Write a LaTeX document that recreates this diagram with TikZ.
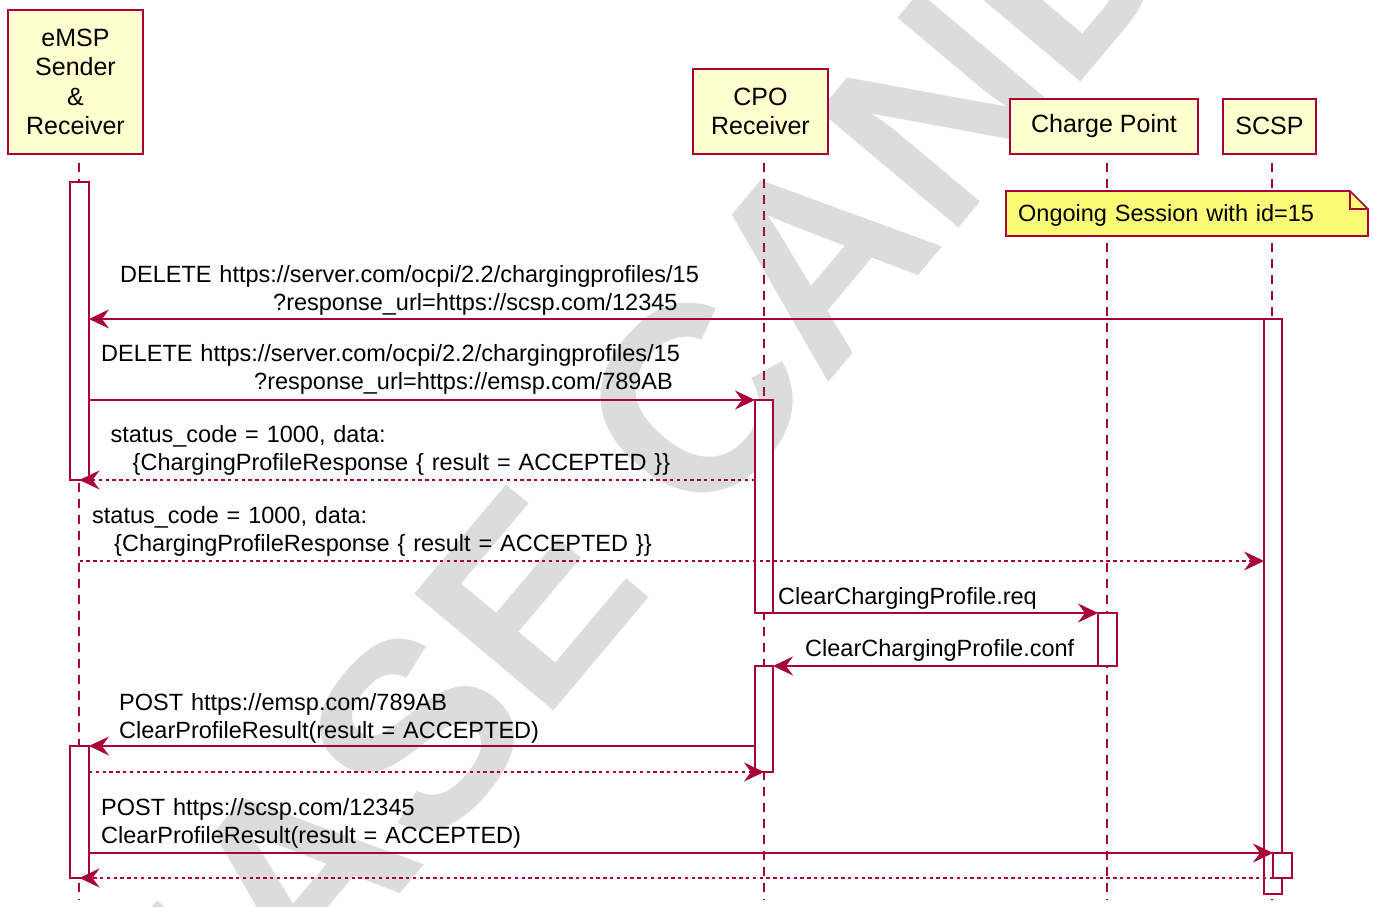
\documentclass[tikz,border=0pt]{standalone}
\usepackage{fontspec}
\setmainfont{Liberation Sans}
\usetikzlibrary{arrows.meta}
\definecolor{umlred}{HTML}{A80036}
\definecolor{umlbox}{HTML}{FEFECE}
\definecolor{umlnote}{HTML}{FBFB77}
\definecolor{wmgray}{HTML}{DCDCDC}
\tikzset{
  watermark/.style={font=\bfseries\fontsize{264}{264}\selectfont, text=wmgray, rotate=50, inner sep=0pt},
  actor/.style={draw=umlred, fill=umlbox, line width=2.4pt, inner sep=0pt, anchor=south, align=center, font=\fontsize{25}{29.4}\selectfont},
  lifeline/.style={draw=umlred, line width=1.5pt, dash pattern=on 9pt off 7pt},
  activ/.style={draw=umlred, fill=white, line width=1.7pt, inner sep=0pt, outer sep=0pt, anchor=north west, minimum width=19pt},
  msg/.style={-{Stealth[length=20pt,width=19pt,inset=7pt]}, draw=umlred, line width=1.7pt},
  reply/.style={msg, dash pattern=on 3.4pt off 3.4pt},
  notebox/.style={draw=umlred, fill=umlnote, line width=1.6pt},
  label/.style={font=\fontsize{23.5}{27.6}\selectfont, inner sep=0pt, anchor=base west, text width=700pt, align=left}
}

\begin{document}
\begin{tikzpicture}[x=1pt,y=1pt]
\useasboundingbox (0,0) rectangle (1373,907);

% watermark
\node[watermark] (wm) at (702,514) {RELEASE CANDIDATE};

% participants
\node[actor, minimum width=135pt, minimum height=144pt] (emsp) at (75.5,752) {eMSP\\Sender\\\&\\Receiver};
\node[actor, minimum width=135pt, minimum height=85pt] (cpo) at (760.5,752) {CPO\\Receiver};
\node[actor, minimum width=188pt, minimum height=55pt] (cp) at (1104,752) {Charge Point};
\node[actor, minimum width=93pt, minimum height=55pt] (scsp) at (1269.5,752) {SCSP};

% lifelines
\coordinate (emspTop) at (79,744);  \coordinate (emspBot) at (79,7);
\coordinate (cpoTop) at (764,744);  \coordinate (cpoBot) at (764,7);
\coordinate (cpTop) at (1107,744);  \coordinate (cpBot) at (1107,7);
\coordinate (scspTop) at (1272,744); \coordinate (scspBot) at (1272,7);
\draw[lifeline] (emspTop) -- (emspBot);
\draw[lifeline] (cpoTop) -- (cpoBot);
\draw[lifeline] (cpTop) -- (cpBot);
\draw[lifeline] (scspTop) -- (scspBot);

% note
\draw[notebox] (1006,716) -- (1350,716) -- (1368,698) -- (1368,671) -- (1006,671) -- cycle;
\draw[notebox, fill=none] (1350,716) -- (1350,698) -- (1368,698);
\node[label, text width=330pt] (session) at (1018,685) {Ongoing Session with id=15};

% activations
\node[activ, minimum height=298pt] (emspA1) at (70,725) {};
\node[activ, minimum width=18pt, minimum height=575pt] (scspA) at (1264,588) {};
\node[activ, minimum width=18pt, minimum height=213pt] (cpoA1) at (755,507) {};
\node[activ, minimum height=53pt] (cpA) at (1098,294) {};
\node[activ, minimum width=18pt, minimum height=106pt] (cpoA2) at (755,241) {};
\node[activ, minimum height=132pt] (emspA2) at (70,161) {};
\node[activ, minimum height=25pt] (scspA2) at (1273,54) {};

% message rows
\coordinate (m1) at (0,588);
\coordinate (m2) at (0,507);
\coordinate (m3) at (0,427);
\coordinate (m4) at (0,346);
\coordinate (m7) at (0,161);
\coordinate (m8) at (0,135);
\coordinate (m9) at (0,54);

% messages
\draw[msg] (scspA.west |- m1) -- (emspA1.east |- m1);
\node[label] (delScsp) at (120,624) {DELETE https://server.com/ocpi/2.2/chargingprofiles/15\\\hspace*{153pt}?response\_url=https://scsp.com/12345};

\draw[msg] (emspA1.east |- m2) -- (cpoA1.west |- m2);
\node[label] (delEmsp) at (101,545) {DELETE https://server.com/ocpi/2.2/chargingprofiles/15\\\hspace*{153pt}?response\_url=https://emsp.com/789AB};

\draw[reply] (cpoA1.west |- m3) -- (emspA1.south);
\node[label] (okCpo) at (110.5,464) {status\_code = 1000, data:\\\hspace*{22pt}\{ChargingProfileResponse \{ result = ACCEPTED \}\}};

\draw[reply] (emspA1.south |- m4) -- (scspA.west |- m4);
\node[label] (okScsp) at (92,383) {status\_code = 1000, data:\\\hspace*{22pt}\{ChargingProfileResponse \{ result = ACCEPTED \}\}};

\draw[msg] (cpoA1.south east) -- (cpA.north west);
\node[label] (clrReq) at (778,302) {ClearChargingProfile.req};

\draw[msg] (cpA.south west) -- (cpoA2.north east);
\node[label] (clrConf) at (805,250) {ClearChargingProfile.conf};

\draw[msg] (cpoA2.west |- m7) -- (emspA2.north east);
\node[label] (postEmsp) at (119,196) {POST https://emsp.com/789AB\\ClearProfileResult(result = ACCEPTED)};

\draw[reply] (emspA2.east |- m8) -- (cpoA2.south);

\draw[msg] (emspA2.east |- m9) -- (scspA2.north west);
\node[label] (postScsp) at (101,91) {POST https://scsp.com/12345\\ClearProfileResult(result = ACCEPTED)};

\draw[reply] (scspA2.south west) -- (emspA2.south);

\end{tikzpicture}
\end{document}
